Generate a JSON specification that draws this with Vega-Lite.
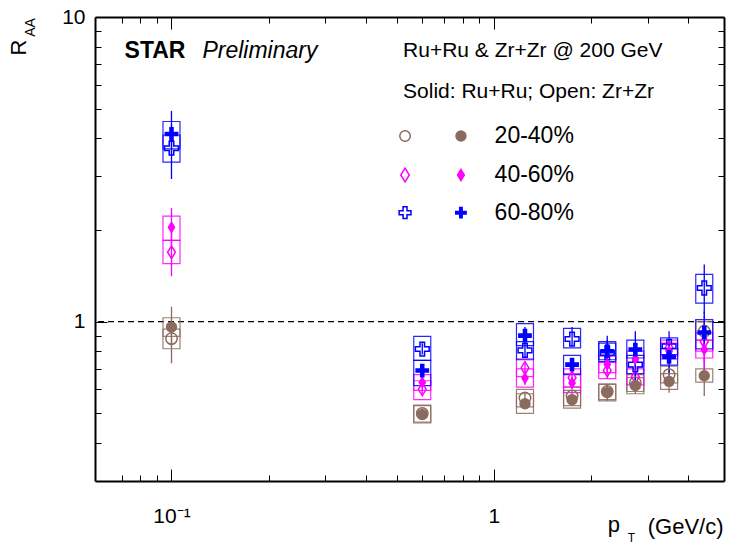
{
  "$schema": "https://vega.github.io/schema/vega-lite/v6.json",
  "width": 629,
  "height": 464,
  "autosize": {"type": "none"},
  "padding": {"left": 95, "top": 17, "right": 10, "bottom": 62},
  "background": "white",
  "datasets": {
    "one": [{}],
    "pts": [
      {"pt": 0.1, "cent": "20-40%", "sys": "Ru+Ru", "raa": 0.96, "stat_lo": 0.83, "stat_hi": 1.12, "sys_lo": 0.895, "sys_hi": 1.03},
      {"pt": 0.1, "cent": "20-40%", "sys": "Zr+Zr", "raa": 0.88, "stat_lo": 0.73, "stat_hi": 1.02, "sys_lo": 0.815, "sys_hi": 0.945},
      {"pt": 0.6, "cent": "20-40%", "sys": "Ru+Ru", "raa": 0.496, "stat_lo": 0.48, "stat_hi": 0.515, "sys_lo": 0.465, "sys_hi": 0.53},
      {"pt": 0.6, "cent": "20-40%", "sys": "Zr+Zr", "raa": 0.5, "stat_lo": 0.485, "stat_hi": 0.52, "sys_lo": 0.468, "sys_hi": 0.532},
      {"pt": 1.25, "cent": "20-40%", "sys": "Ru+Ru", "raa": 0.538, "stat_lo": 0.52, "stat_hi": 0.56, "sys_lo": 0.5, "sys_hi": 0.58},
      {"pt": 1.25, "cent": "20-40%", "sys": "Zr+Zr", "raa": 0.562, "stat_lo": 0.54, "stat_hi": 0.585, "sys_lo": 0.525, "sys_hi": 0.6},
      {"pt": 1.75, "cent": "20-40%", "sys": "Ru+Ru", "raa": 0.555, "stat_lo": 0.53, "stat_hi": 0.58, "sys_lo": 0.52, "sys_hi": 0.595},
      {"pt": 1.75, "cent": "20-40%", "sys": "Zr+Zr", "raa": 0.57, "stat_lo": 0.545, "stat_hi": 0.595, "sys_lo": 0.53, "sys_hi": 0.61},
      {"pt": 2.25, "cent": "20-40%", "sys": "Ru+Ru", "raa": 0.586, "stat_lo": 0.55, "stat_hi": 0.62, "sys_lo": 0.55, "sys_hi": 0.622},
      {"pt": 2.25, "cent": "20-40%", "sys": "Zr+Zr", "raa": 0.59, "stat_lo": 0.56, "stat_hi": 0.625, "sys_lo": 0.555, "sys_hi": 0.625},
      {"pt": 2.75, "cent": "20-40%", "sys": "Ru+Ru", "raa": 0.617, "stat_lo": 0.58, "stat_hi": 0.66, "sys_lo": 0.58, "sys_hi": 0.655},
      {"pt": 2.75, "cent": "20-40%", "sys": "Zr+Zr", "raa": 0.63, "stat_lo": 0.59, "stat_hi": 0.67, "sys_lo": 0.59, "sys_hi": 0.67},
      {"pt": 3.5, "cent": "20-40%", "sys": "Ru+Ru", "raa": 0.637, "stat_lo": 0.585, "stat_hi": 0.69, "sys_lo": 0.6, "sys_hi": 0.675},
      {"pt": 3.5, "cent": "20-40%", "sys": "Zr+Zr", "raa": 0.67, "stat_lo": 0.62, "stat_hi": 0.72, "sys_lo": 0.63, "sys_hi": 0.715},
      {"pt": 4.5, "cent": "20-40%", "sys": "Ru+Ru", "raa": 0.665, "stat_lo": 0.57, "stat_hi": 0.76, "sys_lo": 0.633, "sys_hi": 0.7},
      {"pt": 4.5, "cent": "20-40%", "sys": "Zr+Zr", "raa": 0.93, "stat_lo": 0.82, "stat_hi": 1.05, "sys_lo": 0.87, "sys_hi": 1.0},
      {"pt": 0.1, "cent": "40-60%", "sys": "Ru+Ru", "raa": 2.04, "stat_lo": 1.78, "stat_hi": 2.36, "sys_lo": 1.85, "sys_hi": 2.22},
      {"pt": 0.1, "cent": "40-60%", "sys": "Zr+Zr", "raa": 1.69, "stat_lo": 1.41, "stat_hi": 1.98, "sys_lo": 1.55, "sys_hi": 1.85},
      {"pt": 0.6, "cent": "40-60%", "sys": "Ru+Ru", "raa": 0.632, "stat_lo": 0.61, "stat_hi": 0.66, "sys_lo": 0.595, "sys_hi": 0.67},
      {"pt": 0.6, "cent": "40-60%", "sys": "Zr+Zr", "raa": 0.6, "stat_lo": 0.58, "stat_hi": 0.625, "sys_lo": 0.555, "sys_hi": 0.64},
      {"pt": 1.25, "cent": "40-60%", "sys": "Ru+Ru", "raa": 0.653, "stat_lo": 0.62, "stat_hi": 0.69, "sys_lo": 0.61, "sys_hi": 0.7},
      {"pt": 1.25, "cent": "40-60%", "sys": "Zr+Zr", "raa": 0.705, "stat_lo": 0.67, "stat_hi": 0.74, "sys_lo": 0.66, "sys_hi": 0.755},
      {"pt": 1.75, "cent": "40-60%", "sys": "Ru+Ru", "raa": 0.629, "stat_lo": 0.6, "stat_hi": 0.66, "sys_lo": 0.585, "sys_hi": 0.675},
      {"pt": 1.75, "cent": "40-60%", "sys": "Zr+Zr", "raa": 0.655, "stat_lo": 0.625, "stat_hi": 0.69, "sys_lo": 0.61, "sys_hi": 0.7},
      {"pt": 2.25, "cent": "40-60%", "sys": "Ru+Ru", "raa": 0.723, "stat_lo": 0.68, "stat_hi": 0.77, "sys_lo": 0.68, "sys_hi": 0.77},
      {"pt": 2.25, "cent": "40-60%", "sys": "Zr+Zr", "raa": 0.692, "stat_lo": 0.65, "stat_hi": 0.74, "sys_lo": 0.65, "sys_hi": 0.735},
      {"pt": 2.75, "cent": "40-60%", "sys": "Ru+Ru", "raa": 0.755, "stat_lo": 0.71, "stat_hi": 0.8, "sys_lo": 0.71, "sys_hi": 0.8},
      {"pt": 2.75, "cent": "40-60%", "sys": "Zr+Zr", "raa": 0.659, "stat_lo": 0.62, "stat_hi": 0.7, "sys_lo": 0.62, "sys_hi": 0.7},
      {"pt": 3.5, "cent": "40-60%", "sys": "Ru+Ru", "raa": 0.8, "stat_lo": 0.74, "stat_hi": 0.86, "sys_lo": 0.755, "sys_hi": 0.85},
      {"pt": 3.5, "cent": "40-60%", "sys": "Zr+Zr", "raa": 0.82, "stat_lo": 0.76, "stat_hi": 0.88, "sys_lo": 0.77, "sys_hi": 0.87},
      {"pt": 4.5, "cent": "40-60%", "sys": "Ru+Ru", "raa": 0.81, "stat_lo": 0.68, "stat_hi": 0.95, "sys_lo": 0.76, "sys_hi": 0.87},
      {"pt": 4.5, "cent": "40-60%", "sys": "Zr+Zr", "raa": 0.86, "stat_lo": 0.74, "stat_hi": 1.0, "sys_lo": 0.8, "sys_hi": 0.92},
      {"pt": 0.1, "cent": "60-80%", "sys": "Ru+Ru", "raa": 4.13, "stat_lo": 3.5, "stat_hi": 4.92, "sys_lo": 3.69, "sys_hi": 4.54},
      {"pt": 0.1, "cent": "60-80%", "sys": "Zr+Zr", "raa": 3.71, "stat_lo": 2.94, "stat_hi": 4.45, "sys_lo": 3.34, "sys_hi": 4.1},
      {"pt": 0.6, "cent": "60-80%", "sys": "Ru+Ru", "raa": 0.691, "stat_lo": 0.66, "stat_hi": 0.72, "sys_lo": 0.617, "sys_hi": 0.747},
      {"pt": 0.6, "cent": "60-80%", "sys": "Zr+Zr", "raa": 0.813, "stat_lo": 0.78, "stat_hi": 0.85, "sys_lo": 0.747, "sys_hi": 0.895},
      {"pt": 1.25, "cent": "60-80%", "sys": "Ru+Ru", "raa": 0.9, "stat_lo": 0.85, "stat_hi": 0.96, "sys_lo": 0.835, "sys_hi": 0.985},
      {"pt": 1.25, "cent": "60-80%", "sys": "Zr+Zr", "raa": 0.805, "stat_lo": 0.76, "stat_hi": 0.85, "sys_lo": 0.75, "sys_hi": 0.86},
      {"pt": 1.75, "cent": "60-80%", "sys": "Ru+Ru", "raa": 0.723, "stat_lo": 0.69, "stat_hi": 0.76, "sys_lo": 0.67, "sys_hi": 0.775},
      {"pt": 1.75, "cent": "60-80%", "sys": "Zr+Zr", "raa": 0.877, "stat_lo": 0.83, "stat_hi": 0.96, "sys_lo": 0.82, "sys_hi": 0.95},
      {"pt": 2.25, "cent": "60-80%", "sys": "Ru+Ru", "raa": 0.8, "stat_lo": 0.73, "stat_hi": 0.9, "sys_lo": 0.75, "sys_hi": 0.86},
      {"pt": 2.25, "cent": "60-80%", "sys": "Zr+Zr", "raa": 0.79, "stat_lo": 0.7, "stat_hi": 0.87, "sys_lo": 0.74, "sys_hi": 0.85},
      {"pt": 2.75, "cent": "60-80%", "sys": "Ru+Ru", "raa": 0.81, "stat_lo": 0.72, "stat_hi": 0.93, "sys_lo": 0.76, "sys_hi": 0.87},
      {"pt": 2.75, "cent": "60-80%", "sys": "Zr+Zr", "raa": 0.723, "stat_lo": 0.62, "stat_hi": 0.8, "sys_lo": 0.675, "sys_hi": 0.775},
      {"pt": 3.5, "cent": "60-80%", "sys": "Ru+Ru", "raa": 0.766, "stat_lo": 0.68, "stat_hi": 0.85, "sys_lo": 0.72, "sys_hi": 0.815},
      {"pt": 3.5, "cent": "60-80%", "sys": "Zr+Zr", "raa": 0.83, "stat_lo": 0.74, "stat_hi": 0.93, "sys_lo": 0.78, "sys_hi": 0.885},
      {"pt": 4.5, "cent": "60-80%", "sys": "Ru+Ru", "raa": 0.922, "stat_lo": 0.78, "stat_hi": 1.08, "sys_lo": 0.814, "sys_hi": 1.015},
      {"pt": 4.5, "cent": "60-80%", "sys": "Zr+Zr", "raa": 1.29, "stat_lo": 1.06, "stat_hi": 1.54, "sys_lo": 1.15, "sys_hi": 1.43}
    ]
  },
  "layer": [
    {
      "data": {"name": "one"},
      "mark": {"type": "rule", "color": "black", "strokeWidth": 1.2, "strokeDash": [6, 4]},
      "encoding": {
        "y": {"datum": 1, "type": "quantitative", "scale": {"type": "log", "domain": [0.3, 10], "nice": false}, "axis": null}
      }
    },
    {
      "data": {"name": "pts"},
      "mark": {"type": "bar", "filled": false, "width": 17, "strokeWidth": 1.2, "strokeOpacity": 0.85},
      "encoding": {
        "x": {"field": "pt", "type": "quantitative", "scale": {"type": "log", "domain": [0.06, 5], "nice": false},
          "axis": {"orient": "bottom", "values": [0.07, 0.08, 0.09, 0.1, 0.2, 0.3, 0.4, 0.5, 0.6, 0.7, 0.8, 0.9, 1, 2, 3, 4],
            "labelExpr": "datum.value == 0.1 ? '10⁻¹' : (datum.value == 1 ? '1' : '')",
            "tickSize": {"condition": {"test": "datum.value == 0.1 || datum.value == 1", "value": -12}, "value": -6},
            "labelPadding": 36, "labelFontSize": 21, "labelFlush": false, "labelOverlap": false, "labelBound": false,
            "title": "(GeV/c)", "titleX": 628, "titleY": 52, "titleAlign": "right", "titleBaseline": "alphabetic", "titleFontSize": 22}},
        "y": {"field": "sys_lo", "type": "quantitative", "scale": {"type": "log", "domain": [0.3, 10], "nice": false},
          "axis": {"orient": "left", "values": [0.4, 0.5, 0.6, 0.7, 0.8, 0.9, 1, 2, 3, 4, 5, 6, 7, 8, 9, 10],
            "labelExpr": "datum.value == 1 ? '1' : (datum.value == 10 ? '10' : '')",
            "tickSize": {"condition": {"test": "datum.value == 1 || datum.value == 10", "value": -12}, "value": -6},
            "labelPadding": 22, "labelFontSize": 21, "labelFlush": false, "labelOverlap": false, "labelBound": false,
            "title": "R", "titleX": -77, "titleY": 30, "titleAngle": -90, "titleAlign": "center", "titleBaseline": "middle", "titleFontSize": 22}},
        "y2": {"field": "sys_hi"},
        "color": {"field": "cent", "type": "nominal", "scale": {"domain": ["20-40%", "40-60%", "60-80%"], "range": ["#8B6B5D", "#FF00FF", "#0000FF"]}, "legend": null}
      }
    },
    {
      "data": {"name": "pts"},
      "mark": {"type": "rule", "strokeWidth": 1.3},
      "encoding": {
        "x": {"field": "pt", "type": "quantitative", "scale": {"type": "log", "domain": [0.06, 5], "nice": false},
          "axis": {"orient": "top", "values": [0.07, 0.08, 0.09, 0.1, 0.2, 0.3, 0.4, 0.5, 0.6, 0.7, 0.8, 0.9, 1, 2, 3, 4],
            "labels": false,
            "tickSize": {"condition": {"test": "datum.value == 0.1 || datum.value == 1", "value": -12}, "value": -6},
            "title": "AA", "titleX": -65, "titleY": 10, "titleAngle": -90, "titleAlign": "center", "titleBaseline": "middle", "titleFontSize": 14}},
        "y": {"field": "stat_lo", "type": "quantitative", "scale": {"type": "log", "domain": [0.3, 10], "nice": false},
          "axis": {"orient": "right", "values": [0.4, 0.5, 0.6, 0.7, 0.8, 0.9, 1, 2, 3, 4, 5, 6, 7, 8, 9, 10],
            "labels": false,
            "tickSize": {"condition": {"test": "datum.value == 1 || datum.value == 10", "value": -12}, "value": -6},
            "title": "T", "titleX": -93, "titleY": 520, "titleAngle": 0, "titleAlign": "center", "titleBaseline": "middle", "titleFontSize": 12}},
        "y2": {"field": "stat_hi"},
        "color": {"field": "cent", "type": "nominal", "legend": null}
      }
    },
    {
      "data": {"name": "pts"},
      "transform": [{"filter": "datum.sys == 'Zr+Zr'"}],
      "mark": {"type": "point", "filled": false, "strokeWidth": 1.5, "opacity": 1},
      "encoding": {
        "x": {"field": "pt", "type": "quantitative", "scale": {"type": "log", "domain": [0.06, 5], "nice": false}, "axis": null},
        "y": {"field": "raa", "type": "quantitative", "scale": {"type": "log", "domain": [0.3, 10], "nice": false}, "axis": null},
        "color": {"field": "cent", "type": "nominal", "legend": null},
        "shape": {"field": "cent", "type": "nominal", "scale": {"domain": ["20-40%", "40-60%", "60-80%"], "range": ["circle", "M0,-1L0.62,0L0,1L-0.62,0Z", "M-0.33,-1H0.33V-0.33H1V0.33H0.33V1H-0.33V0.33H-1V-0.33H-0.33Z"]}, "legend": null},
        "size": {"field": "cent", "type": "ordinal", "scale": {"domain": ["20-40%", "40-60%", "60-80%"], "range": [130, 190, 150]}, "legend": null}
      }
    },
    {
      "data": {"name": "pts"},
      "transform": [{"filter": "datum.sys == 'Ru+Ru'"}],
      "mark": {"type": "point", "filled": true, "opacity": 1},
      "encoding": {
        "x": {"field": "pt", "type": "quantitative", "scale": {"type": "log", "domain": [0.06, 5], "nice": false}, "axis": null},
        "y": {"field": "raa", "type": "quantitative", "scale": {"type": "log", "domain": [0.3, 10], "nice": false}, "axis": null},
        "color": {"field": "cent", "type": "nominal", "legend": null},
        "shape": {"field": "cent", "type": "nominal", "legend": null},
        "size": {"field": "cent", "type": "ordinal", "legend": null}
      }
    },
    {
      "data": {"name": "one"},
      "mark": {"type": "text", "text": "p", "fontSize": 22, "align": "center", "baseline": "alphabetic", "font": "Liberation Sans", "color": "black"},
      "encoding": {
        "x": {"datum": 2.36, "type": "quantitative", "scale": {"type": "log", "domain": [0.06, 5], "nice": false}, "axis": null},
        "y": {"datum": 0.204, "type": "quantitative", "scale": {"type": "log", "domain": [0.3, 10], "nice": false}, "axis": null}
      }
    },
    {
      "data": {"name": "one"},
      "mark": {"type": "text", "text": "STAR", "fontSize": 23, "fontWeight": "bold", "align": "left", "baseline": "middle", "font": "Liberation Sans", "color": "black"},
      "encoding": {
        "x": {"datum": 0.0715, "type": "quantitative", "scale": {"type": "log", "domain": [0.06, 5], "nice": false}, "axis": null},
        "y": {"datum": 7.73, "type": "quantitative", "scale": {"type": "log", "domain": [0.3, 10], "nice": false}, "axis": null}
      }
    },
    {
      "data": {"name": "one"},
      "mark": {"type": "text", "text": "Preliminary", "fontSize": 23, "fontStyle": "italic", "align": "left", "baseline": "middle", "font": "Liberation Sans", "color": "black"},
      "encoding": {
        "x": {"datum": 0.1247, "type": "quantitative", "scale": {"type": "log", "domain": [0.06, 5], "nice": false}, "axis": null},
        "y": {"datum": 7.73, "type": "quantitative", "scale": {"type": "log", "domain": [0.3, 10], "nice": false}, "axis": null}
      }
    },
    {
      "data": {"name": "one"},
      "mark": {"type": "text", "text": "Ru+Ru & Zr+Zr @ 200 GeV", "fontSize": 21, "align": "left", "baseline": "middle", "font": "Liberation Sans", "color": "black"},
      "encoding": {
        "x": {"datum": 0.523, "type": "quantitative", "scale": {"type": "log", "domain": [0.06, 5], "nice": false}, "axis": null},
        "y": {"datum": 7.73, "type": "quantitative", "scale": {"type": "log", "domain": [0.3, 10], "nice": false}, "axis": null}
      }
    },
    {
      "data": {"name": "one"},
      "mark": {"type": "text", "text": "Solid: Ru+Ru; Open: Zr+Zr", "fontSize": 21, "align": "left", "baseline": "middle", "font": "Liberation Sans", "color": "black"},
      "encoding": {
        "x": {"datum": 0.523, "type": "quantitative", "scale": {"type": "log", "domain": [0.06, 5], "nice": false}, "axis": null},
        "y": {"datum": 5.674, "type": "quantitative", "scale": {"type": "log", "domain": [0.3, 10], "nice": false}, "axis": null}
      }
    },
    {
      "data": {"name": "one"},
      "mark": {"type": "point", "shape": "circle", "size": 110, "filled": false, "strokeWidth": 1.5, "color": "#8B6B5D", "opacity": 1},
      "encoding": {
        "x": {"datum": 0.5306, "type": "quantitative", "scale": {"type": "log", "domain": [0.06, 5], "nice": false}, "axis": null},
        "y": {"datum": 4.069, "type": "quantitative", "scale": {"type": "log", "domain": [0.3, 10], "nice": false}, "axis": null}
      }
    },
    {
      "data": {"name": "one"},
      "mark": {"type": "point", "shape": "circle", "size": 130, "filled": true, "color": "#8B6B5D", "opacity": 1},
      "encoding": {
        "x": {"datum": 0.791, "type": "quantitative", "scale": {"type": "log", "domain": [0.06, 5], "nice": false}, "axis": null},
        "y": {"datum": 4.069, "type": "quantitative", "scale": {"type": "log", "domain": [0.3, 10], "nice": false}, "axis": null}
      }
    },
    {
      "data": {"name": "one"},
      "mark": {"type": "point", "shape": "M0,-1L0.62,0L0,1L-0.62,0Z", "size": 190, "filled": false, "strokeWidth": 1.5, "color": "#FF00FF", "opacity": 1},
      "encoding": {
        "x": {"datum": 0.5306, "type": "quantitative", "scale": {"type": "log", "domain": [0.06, 5], "nice": false}, "axis": null},
        "y": {"datum": 3.03, "type": "quantitative", "scale": {"type": "log", "domain": [0.3, 10], "nice": false}, "axis": null}
      }
    },
    {
      "data": {"name": "one"},
      "mark": {"type": "point", "shape": "M0,-1L0.62,0L0,1L-0.62,0Z", "size": 190, "filled": true, "color": "#FF00FF", "opacity": 1},
      "encoding": {
        "x": {"datum": 0.791, "type": "quantitative", "scale": {"type": "log", "domain": [0.06, 5], "nice": false}, "axis": null},
        "y": {"datum": 3.03, "type": "quantitative", "scale": {"type": "log", "domain": [0.3, 10], "nice": false}, "axis": null}
      }
    },
    {
      "data": {"name": "one"},
      "mark": {"type": "point", "shape": "M-0.33,-1H0.33V-0.33H1V0.33H0.33V1H-0.33V0.33H-1V-0.33H-0.33Z", "size": 140, "filled": false, "strokeWidth": 1.5, "color": "#0000FF", "opacity": 1},
      "encoding": {
        "x": {"datum": 0.5306, "type": "quantitative", "scale": {"type": "log", "domain": [0.06, 5], "nice": false}, "axis": null},
        "y": {"datum": 2.279, "type": "quantitative", "scale": {"type": "log", "domain": [0.3, 10], "nice": false}, "axis": null}
      }
    },
    {
      "data": {"name": "one"},
      "mark": {"type": "point", "shape": "M-0.33,-1H0.33V-0.33H1V0.33H0.33V1H-0.33V0.33H-1V-0.33H-0.33Z", "size": 140, "filled": true, "color": "#0000FF", "opacity": 1},
      "encoding": {
        "x": {"datum": 0.791, "type": "quantitative", "scale": {"type": "log", "domain": [0.06, 5], "nice": false}, "axis": null},
        "y": {"datum": 2.279, "type": "quantitative", "scale": {"type": "log", "domain": [0.3, 10], "nice": false}, "axis": null}
      }
    },
    {
      "data": {"name": "one"},
      "mark": {"type": "text", "text": "20-40%", "fontSize": 23, "align": "left", "baseline": "middle", "font": "Liberation Sans", "color": "black"},
      "encoding": {
        "x": {"datum": 1.006, "type": "quantitative", "scale": {"type": "log", "domain": [0.06, 5], "nice": false}, "axis": null},
        "y": {"datum": 4.069, "type": "quantitative", "scale": {"type": "log", "domain": [0.3, 10], "nice": false}, "axis": null}
      }
    },
    {
      "data": {"name": "one"},
      "mark": {"type": "text", "text": "40-60%", "fontSize": 23, "align": "left", "baseline": "middle", "font": "Liberation Sans", "color": "black"},
      "encoding": {
        "x": {"datum": 1.006, "type": "quantitative", "scale": {"type": "log", "domain": [0.06, 5], "nice": false}, "axis": null},
        "y": {"datum": 3.03, "type": "quantitative", "scale": {"type": "log", "domain": [0.3, 10], "nice": false}, "axis": null}
      }
    },
    {
      "data": {"name": "one"},
      "mark": {"type": "text", "text": "60-80%", "fontSize": 23, "align": "left", "baseline": "middle", "font": "Liberation Sans", "color": "black"},
      "encoding": {
        "x": {"datum": 1.006, "type": "quantitative", "scale": {"type": "log", "domain": [0.06, 5], "nice": false}, "axis": null},
        "y": {"datum": 2.279, "type": "quantitative", "scale": {"type": "log", "domain": [0.3, 10], "nice": false}, "axis": null}
      }
    }
  ],
  "resolve": {"axis": {"x": "independent", "y": "independent"}},
  "config": {
    "view": {"stroke": null},
    "axis": {"domainColor": "black", "domainWidth": 2, "tickColor": "black", "tickWidth": 1, "grid": false,
      "labelFont": "Liberation Sans", "titleFont": "Liberation Sans", "labelColor": "black", "titleColor": "black", "titleFontWeight": "normal", "titlePadding": 0}
  }
}
